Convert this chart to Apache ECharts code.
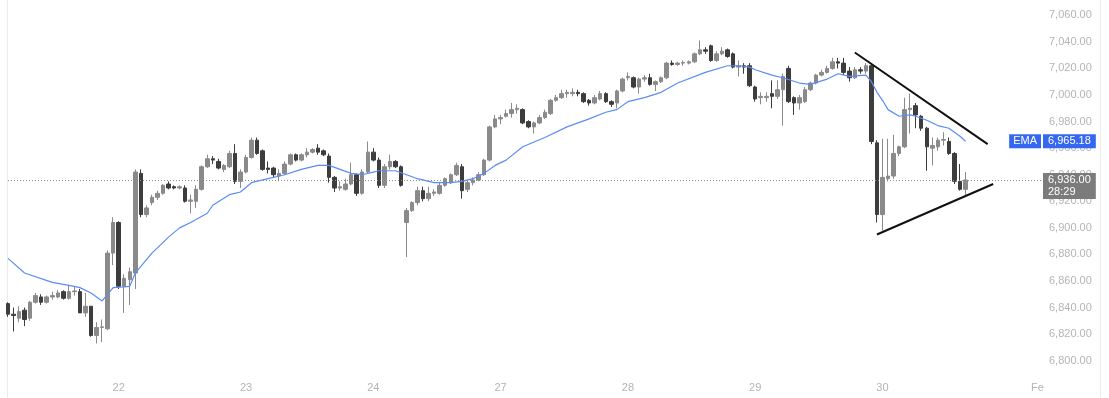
<!DOCTYPE html>
<html>
<head>
<meta charset="utf-8">
<script src="https://cdn.jsdelivr.net/npm/echarts@6/dist/echarts.min.js"></script>
<style>
html,body{margin:0;padding:0;background:#fff;}
#chart{width:1109px;height:398px;}
</style>
</head>
<body>
<div id="chart"></div>
<script>
// ---- data (hourly candles) ----
const openP = [6843,6835,6832,6838,6832,6844,6848,6844,6848,6848,6852,6847,6852,6852,6836,6841,6819,6825,6824,6881,
6904,6856,6861,6866,6941,6910,6919,6923,6926,6933,6931,6930,6930,6920,6920,6929,6946,6952,6950,6944,
6946,6956,6935,6942,6953,6966,6958,6945,6945,6939,6941,6948,6955,6951,6955,6957,6960,6958,6954,6938,
6930,6929,6933,6940,6926,6942,6957,6951,6932,6946,6950,6946,6904,6913,6919,6928,6922,6926,6926,6932,
6934,6940,6946,6929,6934,6936,6940,6951,6976,6982,6984,6986,6989,6989,6980,6976,6979,6983,6986,6996,
6998,7001,7001,7002,7001,6996,6994,6997,7001,6995,6994,7003,7013,7013,7006,7012,7013,7008,7010,7013,
7024,7023,7024,7024,7025,7031,7034,7037,7026,7031,7034,7031,7021,7022,7022,7006,6998,6998,7001,6999,
7004,7020,6998,6994,6995,7004,7009,7015,7017,7020,7025,7024,7018,7013,7019,7018,7022,6964,6910,6937,
6939,6956,6961,6989,6992,6984,6975,6960,6961,6966,6965,6956,6935,6929];
const closeP = [6835,6834,6837,6831,6844,6849,6844,6848,6849,6851,6847,6852,6852.5,6836,6841,6819,6825,6825.5,6881,6904,
6856,6862,6867,6942,6910,6915,6923,6926,6932,6930,6930,6931,6920,6921,6929,6946,6952,6951,6945,6947,
6956,6935,6942,6953,6966,6956,6944,6944,6940,6941,6948,6955,6951,6955,6957,6959,6957,6955,6938,6930,
6931,6933,6940,6926,6942,6957,6951,6932,6946,6950,6946,6932,6913,6919,6928,6922,6926,6927,6932,6937,
6940,6947,6928,6934,6936,6940,6951,6976,6982,6983,6986,6989,6990,6979,6976,6979,6983,6987,6996,6998,
7001,7002,7002,7001,6995,6994,6998,7001,6995,6993,7003,7012,7014,7006,7012,7013,7008,7010,7013,7024,
7023,7024,7024.5,7025,7031,7034,7033,7026,7031,7033,7029,7021,7022,7021,7007,6997,6999,6999,6999,7004,
7014,6995,6994,6998,7004,7009,7015,7017,7020,7025,7024,7017,7013,7019,7018,7022,6965,6910,6938,6939,
6956,6961,6989,6990,6985,6975,6961,6962,6966,6966.5,6956,6935,6929,6936];
const lowP = [6833,6822,6829,6826,6830,6843,6842,6843,6846,6847,6846,6846,6849,6836,6833,6818,6813,6814,6823,6872,
6854,6836,6842,6854,6908,6908,6917,6921,6925,6929,6929,6929,6919,6911,6915,6928,6945,6948,6944,6942,
6945,6933,6930,6941,6952,6955,6943,6941,6938,6935,6940,6947,6950,6950,6953,6956,6955,6954,6934,6927,
6928,6928,6932,6924,6925,6941,6950,6930,6930,6944,6945,6931,6878,6912,6917,6920,6920,6924,6925,6931,
6933,6939,6922,6927,6932,6935,6939,6950,6975,6978,6983,6983,6986,6978,6975,6971,6978,6982,6985,6995,
6997,6998,6999,6999,6994,6992,6993,6996,6994,6991,6990,7002,7011,7005,7001,7010,7007,7003,7009,7012,
7022,7022,7022,7023,7024,7030,7031,7025,7025,7030,7028,7020,7014,7016,7006,6995,6993,6995,6990,6997,
6977,6994,6985,6989,6994,7003,7008,7014,7016,7019,7020,7015,7010,7012,7016,7016,6963,6904,6898,6935,
6937,6954,6960,6971,6975,6973,6943,6947,6958,6962,6955,6933,6928,6924];
const highP = [6844,6840,6841,6840,6845,6851,6850,6849,6852,6853,6853,6857,6856,6854,6851,6841,6829,6831,6883,6908,
6905,6865,6870,6944,6944,6917,6925,6928,6933,6935,6932,6932,6932,6925,6932,6947,6955,6954,6952,6948,
6958,6963,6944,6955,6968,6968,6959,6950,6946,6944,6950,6956,6956,6956,6960,6960,6963,6959,6956,6939,
6935,6937,6949,6941,6944,6965,6960,6953,6948,6955,6951,6947,6915,6920,6931,6931,6931,6929,6934,6938,
6941,6949,6948,6936,6938,6942,6952,6977,6985,6985,6989,6994,6993,6990,6981,6980,6985,6989,6997,7000,
7004,7004,7005,7004,7002,6997,7000,7003,7002,6996,7004,7013,7017,7014,7013,7015,7016,7011,7014,7025,
7026,7025,7026,7026,7032,7041,7036,7038,7033,7036,7035,7032,7026,7024,7024,7007,7002,7002,7011,7011,
7016,7022,6999,7000,7006,7010,7016,7019,7022,7028,7028,7028,7021,7021,7021,7024,7024,6966,6967,6967,
6970,6962,6998,7001,6994,6985,6976,6968,6968,6972,6968,6957,6948,6942];

// EMA: [candle index, value]
const emaIdx = [0,3,8,12,13,15,17,18,19,22,23,26,29,31,33,36,37,40,42,44,47,50,53,56,58,60,62,64,66,67,70,72,74,77,80,82,84,86,88,90,93,97,101,105,108,110,112,115,118,121,126,130,132,134,135,138,140,143,145,148,150,152,155,156,157,158,159,161,163,164,166,168,170,172,173];
const emaVal = [6877,6866,6859,6856,6855,6851,6845,6850,6855,6856,6866,6881,6893,6900,6904,6911,6917,6925,6927,6934,6937,6940,6944,6947,6947,6944,6941,6940,6942,6943,6943,6940,6937,6934,6934,6935,6937,6941,6947,6951,6961,6968,6976,6982,6987,6989,6995,6998,7002,7009,7017,7022,7022,7021,7019,7015,7013,7009,7008,7012,7016,7014,7015,7010,7002,6996,6989,6984,6985,6984,6981,6977,6975,6969,6965.18];

// x tick labels (day starts) and their candle indices
const dayLabels = ['22','23','24','27','28','29','30','Feb'];
const dayIndex  = [20, 43, 66, 89, 112, 135, 158, 186];
const totalSlots = 188;

// last price, EMA value and countdown
const lastPrice = 6936.00;
const lastEma = 6965.18;
const countdown = '28:29';

// triangle trendlines: [index, price]
const upperLine = [[153, 7032], [177, 6963]];
const lowerLine = [[157, 6895], [178, 6933]];

// ---- build ----
const categories = [];
for (let i = 0; i < totalSlots; i++) categories.push(String(i));
const labelMap = {};
dayIndex.forEach((idx, k) => { labelMap[idx] = dayLabels[k]; });

const candles = openP.map((o, i) => [o, closeP[i], lowP[i], highP[i]]);
const emaData = emaIdx.map((ix, k) => [String(ix), emaVal[k]]);

function fmt(v) {
  const s = v.toFixed(2);
  const [a, b] = s.split('.');
  return a.replace(/\B(?=(\d{3})+(?!\d))/g, ',') + '.' + b;
}

const UP = '#8a8a8a', DOWN = '#3d3d3d', BLUE = '#3567f0';
const FONT = 'Liberation Sans, Arial, sans-serif';
const HIDDEN = {color: 'rgba(0,0,0,0)', width: 0};

const trend = (pts) => [
  {coord: [String(pts[0][0]), pts[0][1]], lineStyle: {color: '#111111', width: 2, type: 'solid'}, label: {show: false}},
  {coord: [String(pts[1][0]), pts[1][1]]}
];

const chart = echarts.init(document.getElementById('chart'), null, {renderer: 'canvas'});
chart.setOption({
  animation: false,
  backgroundColor: '#ffffff',
  grid: {left: 8, right: 66, top: 2, bottom: 24},
  xAxis: {
    type: 'category',
    data: categories,
    boundaryGap: false,
    axisLine: {show: false},
    axisTick: {show: false},
    splitLine: {show: false},
    axisLabel: {
      interval: (i) => labelMap[i] !== undefined,
      formatter: (v, i) => labelMap[i] || '',
      color: '#b4b4b4',
      fontSize: 11,
      fontFamily: FONT,
      margin: 8,
      width: 14,
      overflow: 'truncate',
      ellipsis: ''
    }
  },
  yAxis: {
    type: 'value',
    position: 'right',
    min: 6790,
    max: 7070,
    interval: 10,
    axisLine: {show: false},
    axisTick: {show: false},
    splitLine: {show: false},
    axisLabel: {
      formatter: (v) => (v % 20 === 0 ? fmt(v) : ''),
      color: '#b4b4b4',
      fontSize: 11,
      fontFamily: FONT,
      margin: 6
    }
  },
  series: [
    {
      type: 'candlestick',
      data: candles,
      barWidth: 4,
      itemStyle: {
        color: UP, color0: DOWN, borderColor: UP, borderColor0: DOWN, borderWidth: 1
      },
      markLine: {
        silent: true,
        symbol: ['none', 'none'],
        animation: false,
        data: [
          {
            yAxis: lastPrice,
            lineStyle: {color: '#8c8c8c', type: [1, 2], width: 1},
            label: {
              show: true, position: 'end', distance: 0,
              formatter: fmt(lastPrice) + '\n' + countdown,
              backgroundColor: '#7b7b7b', color: '#ffffff',
              fontSize: 11, fontFamily: FONT, lineHeight: 12,
              padding: [1, 5, 1, 5], align: 'left', offset: [0, 6]
            }
          },
          {
            yAxis: lastEma,
            lineStyle: HIDDEN,
            label: {
              show: true, position: 'end', distance: 0,
              formatter: fmt(lastEma),
              backgroundColor: BLUE, color: '#ffffff',
              fontSize: 11, fontFamily: FONT, lineHeight: 13,
              padding: [1, 5, 0, 5]
            }
          },
          {
            yAxis: lastEma,
            lineStyle: HIDDEN,
            label: {
              show: true, position: 'insideEnd', distance: 2,
              formatter: 'EMA',
              backgroundColor: BLUE, color: '#ffffff',
              fontSize: 11, fontFamily: FONT, lineHeight: 13,
              padding: [1, 4, 0, 4]
            }
          },
          trend(upperLine),
          trend(lowerLine)
        ]
      }
    },
    {
      type: 'line',
      data: emaData,
      showSymbol: false,
      symbol: 'none',
      smooth: false,
      lineStyle: {color: '#5b8cf5', width: 1.2},
      z: 3
    }
  ],
  graphic: [
    {type: 'line', shape: {x1: 7.5, y1: 0, x2: 7.5, y2: 398}, style: {stroke: '#ececec', lineWidth: 1}, silent: true},
    {type: 'line', shape: {x1: 1100.5, y1: 0, x2: 1100.5, y2: 398}, style: {stroke: '#ececec', lineWidth: 1}, silent: true}
  ]
});
</script>
</body>
</html>
